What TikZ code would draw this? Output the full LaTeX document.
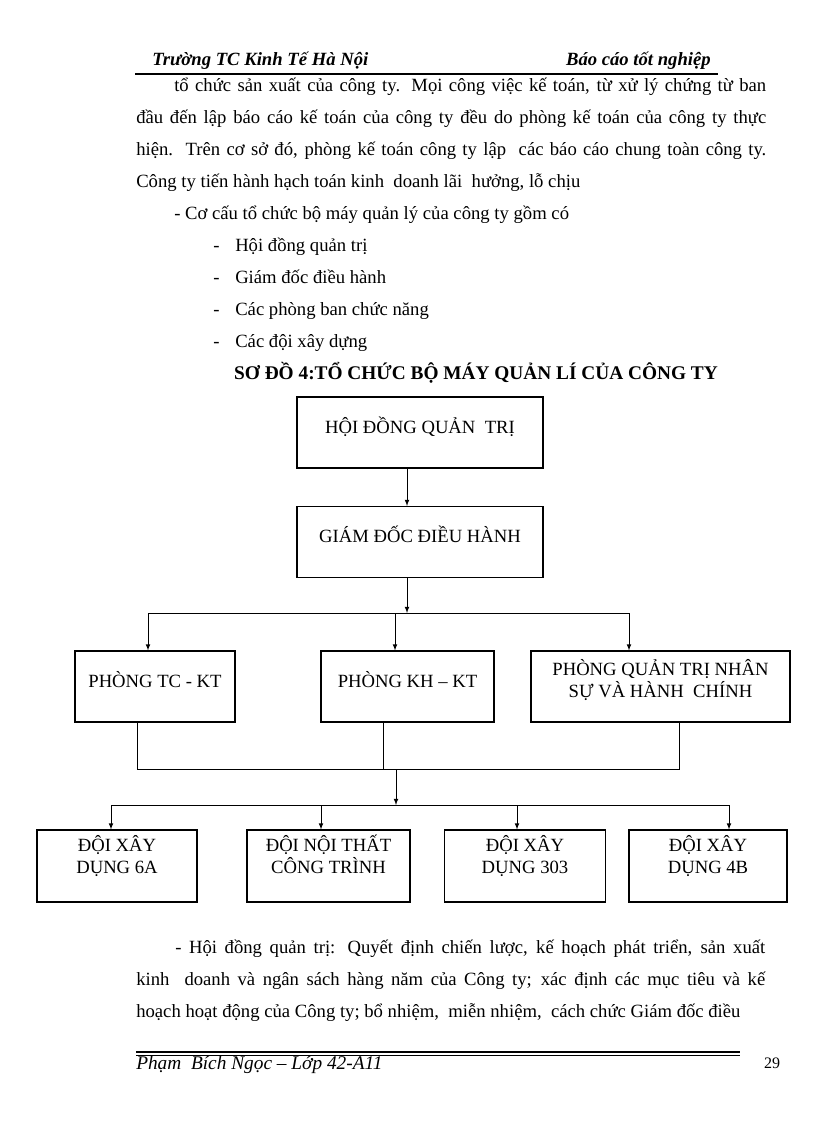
\documentclass[tikz,border=0pt]{standalone}
\usepackage{fontspec}
\setmainfont{Liberation Serif}

\begin{document}
\begin{tikzpicture}[x=0.75pt,y=-0.75pt,
    body/.style={anchor=base west, inner sep=0, font=\fontsize{14}{16.8}\selectfont},
    box/.style={draw, line width=0.8pt, align=center, inner sep=0,
      font=\fontsize{14}{16.5}\selectfont},
    oneline/.style={text height=10pt, text depth=9pt},
    boxsize/.style 2 args={minimum width=#1*0.75pt, minimum height=#2*0.75pt},
    link/.style={line width=0.6pt}]
    \useasboundingbox (0,0) rectangle (816,1123);

    % Page header
    \node[anchor=base west, inner sep=0, font=\fontsize{14}{16}\selectfont\bfseries\itshape] (school) at (152,66) {Trường TC Kinh Tế Hà Nội};
    \node[anchor=base east, inner sep=0, font=\fontsize{14}{16}\selectfont\bfseries\itshape] (report) at (711,66) {Báo cáo tốt nghiệp};
    \draw[line width=1.1pt] (135,74) -- (718,74);

    % Text before the chart
    \node[body] (l1) at (174,91.5) {\makebox[444pt][s]{tổ chức sản xuất của công ty. Mọi công việc kế toán, từ xử lý chứng từ ban}};
    \node[body] (l2) at (136,123.5) {\makebox[472.5pt][s]{đầu đến lập báo cáo kế toán của công ty đều do phòng kế toán của công ty thực}};
    \node[body] (l3) at (136,155.5) {\makebox[472.5pt][s]{hiện.\ \ Trên cơ sở đó, phòng kế toán công ty lập\ \ các báo cáo chung toàn công ty.}};
    \node[body] (l4) at (136,187.5) {Công ty tiến hành hạch toán kinh\ \ doanh lãi\ \ hưởng, lỗ chịu};
    \node[body] (l5) at (174,219.5) {- Cơ cấu tổ chức bộ máy quản lý của công ty gồm có};
    % List items
    \node[body] (d1) at (213,251.5) {-};
    \node[body] (i1) at (235,251.5) {Hội đồng quản trị};
    \node[body] (d2) at (213,283.5) {-};
    \node[body] (i2) at (235,283.5) {Giám đốc điều hành};
    \node[body] (d3) at (213,315.5) {-};
    \node[body] (i3) at (235,315.5) {Các phòng ban chức năng};
    \node[body] (d4) at (213,347.5) {-};
    \node[body] (i4) at (235,347.5) {Các đội xây dựng};

    % Chart title
    \node[anchor=base, inner sep=0, font=\fontsize{14.5}{17}\selectfont\bfseries] (title) at (476,379) {SƠ ĐỒ 4:TỔ CHỨC BỘ MÁY QUẢN LÍ CỦA CÔNG TY};

    % Top boxes
    \node[box, oneline, boxsize={246}{71}] (hdqt) at (420,432.5) {HỘI ĐỒNG QUẢN\ \ TRỊ};
    \node[box, oneline, boxsize={246}{71}] (gddh) at (420,542) {GIÁM ĐỐC ĐIỀU HÀNH};

    % Departments
    \node[box, oneline, boxsize={160}{71}] (tckt) at (155,686.5) {PHÒNG TC - KT};
    \node[box, oneline, boxsize={173}{71}] (khkt) at (407.5,686.5) {PHÒNG KH -- KT};
    \node[box, boxsize={259}{71}] (qtns) at (660.5,686.5) {PHÒNG QUẢN TRỊ NHÂN\\SỰ VÀ HÀNH\ \ CHÍNH\\[-4pt]};

    % Construction teams
    \node[box, boxsize={160}{72}] (d6a) at (117,866) {ĐỘI XÂY\\DỤNG 6A\\[1pt]};
    \node[box, boxsize={163}{72}] (dnt) at (328.5,866) {ĐỘI NỘI THẤT\\CÔNG TRÌNH\\[1pt]};
    \node[box, boxsize={161}{72}] (d303) at (525,866) {ĐỘI XÂY\\DỤNG 303\\[1pt]};
    \node[box, boxsize={158}{72}] (d4b) at (708,866) {ĐỘI XÂY\\DỤNG 4B\\[1pt]};

    % Bus coordinates
    \coordinate (b1l) at (148,613);
    \coordinate (b1m) at (395,613);
    \coordinate (b1a) at (407,613);
    \coordinate (b1r) at (629,613);
    \coordinate (b2l) at (137,769);
    \coordinate (b2m) at (383,769);
    \coordinate (b2a) at (396,769);
    \coordinate (b2r) at (679,769);
    \coordinate (b3l) at (111,805);
    \coordinate (b3a) at (396,805);
    \coordinate (b3b) at (321,805);
    \coordinate (b3c) at (517,805);
    \coordinate (b3r) at (729,805);

    % Arrows from the top
    \draw[link, -latex] (hdqt.south -| b1a) -- (gddh.north -| b1a);
    \draw[link, -latex] (gddh.south -| b1a) -- (b1a);
    \draw[link] (b1l) -- (b1r);
    \draw[link, -latex] (b1l) -- (b1l |- tckt.north);
    \draw[link, -latex] (b1m) -- (b1m |- khkt.north);
    \draw[link, -latex] (b1r) -- (b1r |- qtns.north);

    % Joining the departments
    \draw[link] (b2l |- tckt.south) -- (b2l) -- (b2r) -- (b2r |- qtns.south);
    \draw[link] (b2m |- khkt.south) -- (b2m);
    \draw[link, -latex] (b2a) -- (b3a);
    \draw[link] (b3l) -- (b3r);
    \draw[link, -latex] (b3l) -- (b3l |- d6a.north);
    \draw[link, -latex] (b3b) -- (b3b |- dnt.north);
    \draw[link, -latex] (b3c) -- (b3c |- d303.north);
    \draw[link, -latex] (b3r) -- (b3r |- d4b.north);

    % Text after the chart
    \node[body] (p1) at (175,953) {\makebox[442.5pt][s]{- Hội đồng quản trị: Quyết định chiến lược, kế hoạch phát triển, sản xuất}};
    \node[body] (p2) at (136,985) {\makebox[471.75pt][s]{kinh\ \ doanh và ngân sách hàng năm của Công ty; xác định các mục tiêu và kế}};
    \node[body] (p3) at (136,1017) {hoạch hoạt động của Công ty; bổ nhiệm,\ \ miễn nhiệm,\ \ cách chức Giám đốc điều};

    % Page footer
    \draw[line width=1.5pt] (136,1052) -- (740,1052);
    \draw[line width=0.5pt] (136,1055.5) -- (740,1055.5);
    \node[anchor=base west, inner sep=0, font=\fontsize{14.5}{16}\selectfont\itshape] (author) at (136,1069) {Phạm\ \ Bích Ngọc -- Lớp 42-A11};
    \node[anchor=base, inner sep=0, font=\fontsize{12}{14}\selectfont] (page) at (772,1068) {29};
\end{tikzpicture}
\end{document}
